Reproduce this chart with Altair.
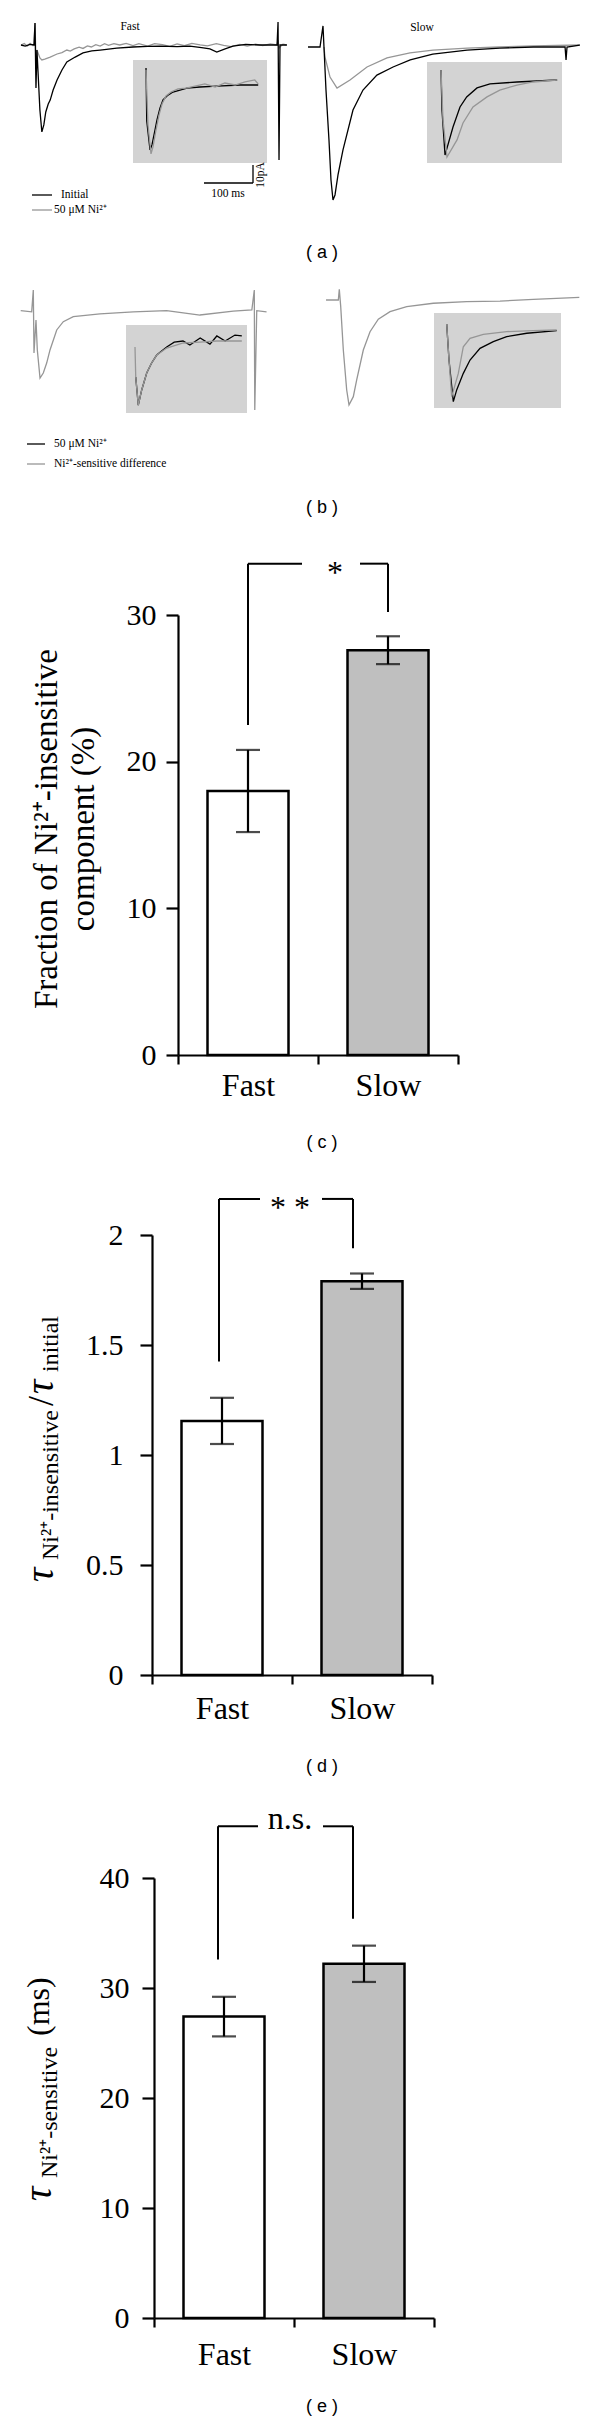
import altair as alt
import pandas as pd

SERIF = "Liberation Serif"
SANS = "Liberation Sans"
TRACE_GRAY = "#969696"
INSET_FILL = "#d3d3d3"
BAR_GRAY = "#bfbfbf"

# ---------------- bar chart data ----------------
categories = ["Fast", "Slow"]
frac_mean = [18.0, 27.6]
frac_sem = [2.8, 0.95]
ratio_mean = [1.155, 1.79]
ratio_sem = [0.105, 0.035]
tau_mean = [27.4, 32.2]
tau_sem = [1.8, 1.65]
frac_ticks = [0, 10, 20, 30]
ratio_ticks = [0, 0.5, 1, 1.5, 2]
tau_ticks = [0, 10, 20, 30, 40]
# significance brackets: left leg end, right leg end, bracket top
frac_bracket = [22.5, 30.2, 33.5]
ratio_bracket = [1.425, 1.94, 2.164]
tau_bracket = [32.6, 36.3, 44.7]
frac_sig = "*"
ratio_sig = "* *"
tau_sig = "n.s."

# ---------------- traces: time (ms from stimulus), current (pA from baseline) ----------------
a_fast_init_t = [-28.6, -20, -10, -2, 0, 2, 4, 6, 10, 14, 18, 22, 27, 31, 37, 45, 55, 65, 82, 98, 116, 133, 167, 200, 230, 255, 290, 316, 340, 357, 371, 388, 404, 430, 459, 494, 496, 498, 500, 514]
a_fast_init_i = [0, -0.6, 0.3, 0, 12.2, -23.9, -2.8, -13.9, -36.1, -48.3, -44.4, -37.2, -32.8, -30.6, -25.0, -19.4, -13.9, -9.4, -6.7, -4.4, -3.3, -2.8, -1.7, -1.1, -0.8, -0.6, -0.9, -0.6, -1.4, -2.2, -3.9, -2.2, -0.6, 0.3, 0, 0, 12.8, -63.9, 0, 0]
a_fast_ni_t = [-28.6, -22, -16, -10, -4, -2, 0, 2, 4, 10, 14, 20, 31, 45, 55, 65, 72, 80, 90, 98, 107, 115, 124, 133, 142, 150, 161, 173, 186, 200, 212, 230, 244, 260, 275, 290, 305, 320, 337, 352, 370, 385, 400, 418, 433, 450, 465, 480, 494, 496, 498, 506, 514]
a_fast_ni_i = [0, 0.8, -0.6, 0.9, -0.4, 0, 12.2, -8.3, -2.8, -7.2, -8.3, -7.8, -6.7, -5.0, -4.2, -2.8, -3.4, -2.2, -1.2, -1.9, -0.5, -1.1, 0.2, -0.6, 0.7, -0.2, 0.8, 0, 0.9, -0.3, 0.7, -0.6, 0.8, 0.2, -0.7, 0.6, -0.4, 0.9, 0.1, -0.5, 0.7, -0.2, -0.9, 0.3, -0.6, 0.5, -0.3, 0.6, 0, 2.8, -1.7, 0.5, 0]
a_fast_inset_init_t = [0, 1.5, 8.2, 12.2, 18.4, 22.4, 28.6, 34.7, 44.9, 55.1, 69.4, 83.7, 110, 145, 192, 229]
a_fast_inset_init_i = [9.4, -20.0, -36.1, -33.3, -25.0, -19.4, -12.8, -8.3, -5.6, -3.9, -2.8, -1.7, -1.1, -0.6, 0, 0]
a_fast_inset_ni_t = [0, 4.1, 10.2, 14.3, 20.4, 26.5, 32.7, 40.8, 51, 65.3, 81.6, 100, 120, 141, 161, 182, 202, 222, 229]
a_fast_inset_ni_i = [8.3, -22.2, -38.3, -34.4, -25.0, -16.7, -10.6, -6.1, -3.9, -2.2, -1.7, -0.6, 0.6, -1.1, 1.1, 0, 1.7, 2.8, 0.6]
a_slow_init_t = [-30.6, -6.1, 0, 2, 6.1, 12.2, 16.3, 20.4, 24.5, 30.6, 40.8, 61.2, 81.6, 110, 143, 178, 224, 294, 361, 429, 494, 496, 498, 524]
a_slow_init_i = [0, 0, 11.7, 0, -23.9, -51.7, -73.9, -85.0, -82.2, -71.1, -57.2, -35.0, -23.9, -15.6, -11.1, -7.2, -3.9, -1.7, -0.6, 0, 0, -7.2, 0, 1.1]
a_slow_ni_t = [2, 4.1, 14.3, 28.6, 55.1, 89.8, 130.6, 177.6, 224.5, 293.9, 360, 428.6, 524.5]
a_slow_ni_i = [0, -5.6, -16.7, -22.8, -18.3, -11.1, -6.1, -3.3, -1.7, -0.6, 0, 0.6, 1.1]
a_slow_inset_init_t = [0, 2, 8.2, 24.5, 38.8, 52.4, 73.5, 100, 155, 237]
a_slow_inset_init_i = [5.6, -16.7, -41.7, -26.1, -15.0, -9.4, -4.4, -2.2, -1.1, 0]
a_slow_inset_ni_t = [0, 4.1, 12.2, 32.7, 44.9, 65.3, 93.9, 120, 155, 188, 237]
a_slow_inset_ni_i = [5.6, -22.2, -42.8, -33.3, -23.9, -15.0, -9.4, -5.6, -2.8, -1.1, 0]

b_fast_diff_t = [-25.7, -3.3, 0, 1.4, 5.5, 8.2, 13.7, 20.4, 27.3, 34.1, 47.8, 61.2, 81.6, 136, 204, 272, 340, 408, 446, 451, 452, 456, 476]
b_fast_diff_i = [0, -0.6, 11.5, -23.5, -5.2, -21.8, -37.4, -34.6, -29.1, -21.8, -10.7, -6.1, -3.3, -1.8, -0.6, 0, -2.4, -0.2, 0.4, 11.5, -55.2, 0, -0.6]
b_fast_inset_diff_t = [0, 1.5, 6.7, 13.7, 23.9, 33.9, 44.3, 64.7, 98.6, 132.7, 167, 218]
b_fast_inset_diff_i = [-3.3, -20.0, -35.6, -27.2, -17.8, -12.2, -7.8, -3.9, -1.1, -0.6, 0, 0]
b_fast_inset_ni_t = [1.5, 6.7, 13.7, 23.9, 33.9, 44.3, 64.7, 80, 98, 112, 133, 153, 167, 184, 204, 218]
b_fast_inset_ni_i = [-20.0, -35.6, -27.2, -17.8, -12.2, -7.8, -3.3, -0.6, 0, -2.2, 1.7, -1.7, 2.8, 0, 3.3, 2.8]
b_slow_diff_t = [-27.1, -2, 0, 2.9, 8.2, 15.1, 19.8, 28.6, 35.5, 49, 62.7, 79.6, 103.5, 137.6, 191.8, 260, 328, 396, 489.8]
b_slow_diff_i = [0, 0, 5.9, -3.7, -27.8, -50.0, -58.3, -53.7, -44.4, -27.8, -17.6, -10.7, -6.5, -3.7, -1.8, -0.9, -0.6, 0.4, 1.5]
b_slow_inset_diff_t = [0, 4.7, 10.2, 23.7, 33.9, 47.6, 74.7, 122.4, 176.7, 224.5]
b_slow_inset_diff_i = [3.3, -16.7, -37.0, -24.1, -9.3, -4.6, -2.4, -0.9, -0.4, 0]
b_slow_inset_ni_t = [0, 4.7, 13.5, 20.4, 33.9, 47.6, 68, 95.1, 122.4, 163.3, 224.5]
b_slow_inset_ni_i = [3.3, -16.7, -39.8, -33.3, -24.1, -16.7, -10.2, -6.5, -3.7, -1.8, -0.4]

scale_bar_ms = 100
scale_bar_pa = 10

# ---------------- layout (page pixels) ----------------
PAGE_L = 8
W = 584
PX_MS = 0.49
PX_PA = 1.8
ONE = pd.DataFrame({"k": [0]})


def txt(text, x, y, size, font=SERIF, angle=0, align="left", baseline="middle",
        color="black", style="normal"):
    return alt.Chart(ONE).mark_text(
        text=text, font=font, fontSize=size, angle=angle, align=align,
        baseline=baseline, color=color, fontStyle=style
    ).encode(x=alt.value(x), y=alt.value(y))


def trace_cell(top, height, traces, rects, extra_fn, texts):
    xs = alt.Scale(domain=[0, W / PX_MS], nice=False, zero=False)
    ys = alt.Scale(domain=[-height / PX_PA, 0], nice=False, zero=False)
    rdf = pd.DataFrame([{"x": (x1 - PAGE_L) / PX_MS, "x2": (x2 - PAGE_L) / PX_MS,
                         "y": -(y1 - top) / PX_PA, "y2": -(y2 - top) / PX_PA}
                        for (x1, x2, y1, y2) in rects])
    layers = [alt.Chart(rdf).mark_rect(color=INSET_FILL).encode(
        x=alt.X("x:Q", scale=xs, axis=None), x2="x2",
        y=alt.Y("y:Q", scale=ys, axis=None), y2="y2")]
    for (t, i, origin, color) in traces:
        df = pd.DataFrame({
            "x": [tt + (origin[0] - PAGE_L) / PX_MS for tt in t],
            "y": [ii - (origin[1] - top) / PX_PA for ii in i],
            "k": list(range(len(t)))})
        layers.append(alt.Chart(df).mark_line(color=color, strokeWidth=1.3).encode(
            x=alt.X("x:Q", scale=xs, axis=None),
            y=alt.Y("y:Q", scale=ys, axis=None), order="k:Q"))
    layers += extra_fn(xs, ys, top)
    for (s, px, py, size, kw) in texts:
        layers.append(txt(s, px - PAGE_L, py - top, size, **kw))
    return alt.layer(*layers).properties(width=W, height=height)


def legend_rule(x1, x2, y, top, color):
    return alt.Chart(ONE).mark_rule(color=color, strokeWidth=1.3).encode(
        x=alt.value(x1 - PAGE_L), x2=alt.value(x2 - PAGE_L), y=alt.value(y - top))


def extras_a(xs, ys, top):
    sb = pd.DataFrame({"x": [(204 - PAGE_L) / PX_MS], "y": [-(183 - top) / PX_PA]})
    sb["x_end"] = sb["x"] + scale_bar_ms
    sb["y_end"] = sb["y"] + scale_bar_pa
    h = alt.Chart(sb).mark_rule(color="black", strokeWidth=1.3).encode(
        x=alt.X("x:Q", scale=xs, axis=None), x2="x_end",
        y=alt.Y("y:Q", scale=ys, axis=None))
    v = alt.Chart(sb).mark_rule(color="black", strokeWidth=1.3).encode(
        x=alt.X("x_end:Q", scale=xs, axis=None),
        y=alt.Y("y:Q", scale=ys, axis=None), y2="y_end")
    return [h, v, legend_rule(32, 52, 195, top, "black"),
            legend_rule(32, 52, 210, top, TRACE_GRAY)]


def extras_b(xs, ys, top):
    return [legend_rule(27, 45, 444, top, "black"),
            legend_rule(27, 45, 464, top, TRACE_GRAY)]


A_TOP, A_H = 8, 260
B_TOP, B_H = 268, 257

cell_a = trace_cell(
    A_TOP, A_H,
    [(a_fast_ni_t, a_fast_ni_i, (35, 45), TRACE_GRAY),
     (a_fast_init_t, a_fast_init_i, (35, 45), "black"),
     (a_fast_inset_init_t, a_fast_inset_init_i, (146, 85), "black"),
     (a_fast_inset_ni_t, a_fast_inset_ni_i, (146, 85), TRACE_GRAY),
     (a_slow_ni_t, a_slow_ni_i, (323, 47), TRACE_GRAY),
     (a_slow_init_t, a_slow_init_i, (323, 47), "black"),
     (a_slow_inset_init_t, a_slow_inset_init_i, (441, 80), "black"),
     (a_slow_inset_ni_t, a_slow_inset_ni_i, (441, 80), TRACE_GRAY)],
    [(133, 267, 60, 163), (427, 562, 62, 163)],
    extras_a,
    [("Fast", 130, 27, 11.5, {"align": "center"}),
     ("Slow", 422, 28, 11.5, {"align": "center"}),
     ("100 ms", 228, 194, 11.5, {"align": "center"}),
     ("10pA", 261, 175, 11.5, {"align": "center", "angle": 270}),
     ("Initial", 61, 195, 11.5, {}),
     ("50 \u03bcM Ni\u00b2\u207a", 54, 210, 11.5, {}),
     ("( a )", 322, 253, 18, {"align": "center", "font": SANS})])

cell_b = trace_cell(
    B_TOP, B_H,
    [(b_fast_diff_t, b_fast_diff_i, (33.3, 310.7), TRACE_GRAY),
     (b_fast_inset_ni_t, b_fast_inset_ni_i, (135, 341), "black"),
     (b_fast_inset_diff_t, b_fast_inset_diff_i, (135, 341), TRACE_GRAY),
     (b_slow_diff_t, b_slow_diff_i, (339.3, 300), TRACE_GRAY),
     (b_slow_inset_ni_t, b_slow_inset_ni_i, (446.7, 330), "black"),
     (b_slow_inset_diff_t, b_slow_inset_diff_i, (446.7, 330), TRACE_GRAY)],
    [(126, 247, 325, 413), (434, 561, 313, 408)],
    extras_b,
    [("50 \u03bcM Ni\u00b2\u207a", 54, 444, 11.5, {}),
     ("Ni\u00b2\u207a-sensitive difference", 54, 464, 11.5, {}),
     ("( b )", 322, 508, 18, {"align": "center", "font": SANS})])


def bar_cell(means, sems, ticks, bracket, sig, sig_x, sig_dy, sig_base,
             leg_off, gap, lab_pad_y, lab_pad_x, title_parts,
             axis_x, plot_top, frame_top, frame_bottom, caption):
    H, BW = 440, 280
    L = axis_x - PAGE_L - 1
    R = PAGE_L + W - axis_x
    T = plot_top - frame_top
    Bt = frame_bottom - plot_top
    fast_c, slow_c = axis_x + BW / 4, axis_x + 3 * BW / 4
    df = pd.DataFrame({"cat": categories, "mean": means,
                       "lo": [m - s for m, s in zip(means, sems)],
                       "hi": [m + s for m, s in zip(means, sems)]})
    xs = alt.Scale(domain=categories, paddingInner=0, paddingOuter=0)
    ys = alt.Scale(domain=[0, ticks[-1]], nice=False, zero=True)

    def X(f):
        return alt.X(f, scale=xs, sort=categories)

    def Y(f):
        return alt.Y(f, scale=ys)

    frame = alt.Chart(ONE).mark_rect(color="white").encode(
        x=alt.value(-L), x2=alt.value(R), y=alt.value(-T), y2=alt.value(Bt))
    bars = alt.Chart(df).mark_bar(width=81, stroke="black", strokeWidth=2.5).encode(
        x=alt.X("cat:N", scale=xs, sort=categories, axis=alt.Axis(
            title=None, labelAngle=0, labelFont=SERIF, labelFontSize=32,
            labelColor="black", labelPadding=lab_pad_x, tickSize=9, tickWidth=2.2,
            tickColor="black", domainColor="black", domainWidth=2.2,
            tickBand="extent", zindex=1)),
        y=alt.Y("mean:Q", scale=ys, axis=alt.Axis(
            title=None, values=ticks, format="~g", grid=False, labelFont=SERIF,
            labelFontSize=30, labelColor="black", labelPadding=lab_pad_y,
            tickSize=12, tickWidth=2.2, tickColor="black", domainColor="black",
            domainWidth=2.2, zindex=1)),
        color=alt.Color("cat:N", scale=alt.Scale(domain=categories,
                        range=["white", BAR_GRAY]), legend=None))
    err = alt.Chart(df).mark_rule(color="black", strokeWidth=2.2).encode(
        x=X("cat:N"), y=Y("lo:Q"), y2="hi")
    cap_lo = alt.Chart(df).mark_tick(color="black", size=24, thickness=2.2).encode(
        x=X("cat:N"), y=Y("lo:Q"))
    cap_hi = alt.Chart(df).mark_tick(color="black", size=24, thickness=2.2).encode(
        x=X("cat:N"), y=Y("hi:Q"))
    legl = pd.DataFrame({"cat": ["Fast"], "b": [bracket[0]], "t": [bracket[2]]})
    legr = pd.DataFrame({"cat": ["Slow"], "b": [bracket[1]], "t": [bracket[2]]})
    leg_l = alt.Chart(legl).mark_rule(color="black", strokeWidth=2, xOffset=leg_off[0]).encode(
        x=X("cat:N"), y=Y("b:Q"), y2="t")
    leg_r = alt.Chart(legr).mark_rule(color="black", strokeWidth=2, xOffset=leg_off[1]).encode(
        x=X("cat:N"), y=Y("b:Q"), y2="t")
    hdf = pd.DataFrame({"cat": ["Fast"], "b": ["Slow"], "t": [bracket[2]]})
    h_l = alt.Chart(hdf).mark_rule(color="black", strokeWidth=2, xOffset=leg_off[0],
                                   x2Offset=gap[0] - slow_c).encode(
        x=X("cat:N"), x2="b", y=Y("t:Q"))
    h_r = alt.Chart(hdf).mark_rule(color="black", strokeWidth=2, xOffset=gap[1] - fast_c,
                                   x2Offset=leg_off[1]).encode(
        x=X("cat:N"), x2="b", y=Y("t:Q"))
    sig_t = alt.Chart(hdf).mark_text(text=sig, font=SERIF, fontSize=32, color="black",
                                     align="center", baseline=sig_base, dy=sig_dy).encode(
        x=alt.value(sig_x - axis_x), y=Y("t:Q"))
    layers = [frame, bars, err, cap_lo, cap_hi, leg_l, leg_r, h_l, h_r, sig_t]
    for (s, px, py, size, kw) in title_parts:
        layers.append(txt(s, px - axis_x, py - plot_top, size, angle=270, **kw))
    layers.append(txt(caption[0], caption[1] - axis_x, caption[2] - plot_top, 18,
                      font=SANS, align="center"))
    panel = alt.layer(*layers).properties(width=BW, height=H)
    spacer = alt.Chart(ONE).mark_rect(color="white").encode(
        x=alt.value(0), x2=alt.value(1), y=alt.value(0), y2=alt.value(1)
    ).properties(width=1, height=1)
    return alt.hconcat(spacer, panel, spacing=0)


SUP = "\u00b2\u207a"
TAU = {"align": "left", "baseline": "alphabetic", "style": "italic"}
SUB = {"align": "left", "baseline": "alphabetic"}

cell_c = bar_cell(
    frac_mean, frac_sem, frac_ticks, frac_bracket, frac_sig, 335, 9, "middle",
    (0, 0), (302, 360), 10, 6,
    [("Fraction of Ni" + SUP + "-insensitive", 57, 829, 33, {"align": "center", "baseline": "alphabetic"}),
     ("component (%)", 94, 829, 33, {"align": "center", "baseline": "alphabetic"})],
    178, 615, 525, 1160, ("( c )", 322, 1143))

cell_d = bar_cell(
    ratio_mean, ratio_sem, ratio_ticks, ratio_bracket, ratio_sig, 290, 9, "middle",
    (-3, -9), (260, 322), 17, 9,
    [("\u03c4", 53, 1582, 40, TAU),
     ("Ni" + SUP + "-insensitive", 58, 1560, 24, SUB),
     ("/", 53, 1406, 36, SUB),
     ("\u03c4", 53, 1394, 40, TAU),
     ("initial", 58, 1372, 24, SUB)],
    152, 1235, 1160, 1780, ("( d )", 322, 1767))

cell_e = bar_cell(
    tau_mean, tau_sem, tau_ticks, tau_bracket, tau_sig, 290, 3, "alphabetic",
    (-6, -11), (258, 323), 13, 12,
    [("\u03c4", 51, 2201, 40, TAU),
     ("Ni" + SUP + "-sensitive", 57, 2178, 24, SUB),
     ("(ms)", 49, 2036, 32, SUB)],
    154, 1878, 1780, 2418, ("( e )", 322, 2407))

chart = alt.vconcat(cell_a, cell_b, cell_c, cell_d, cell_e, spacing=0).properties(
    padding=0
).configure_view(stroke="transparent", strokeWidth=0)

chart.save("out.html", embed_options={"renderer": "svg", "actions": False})
